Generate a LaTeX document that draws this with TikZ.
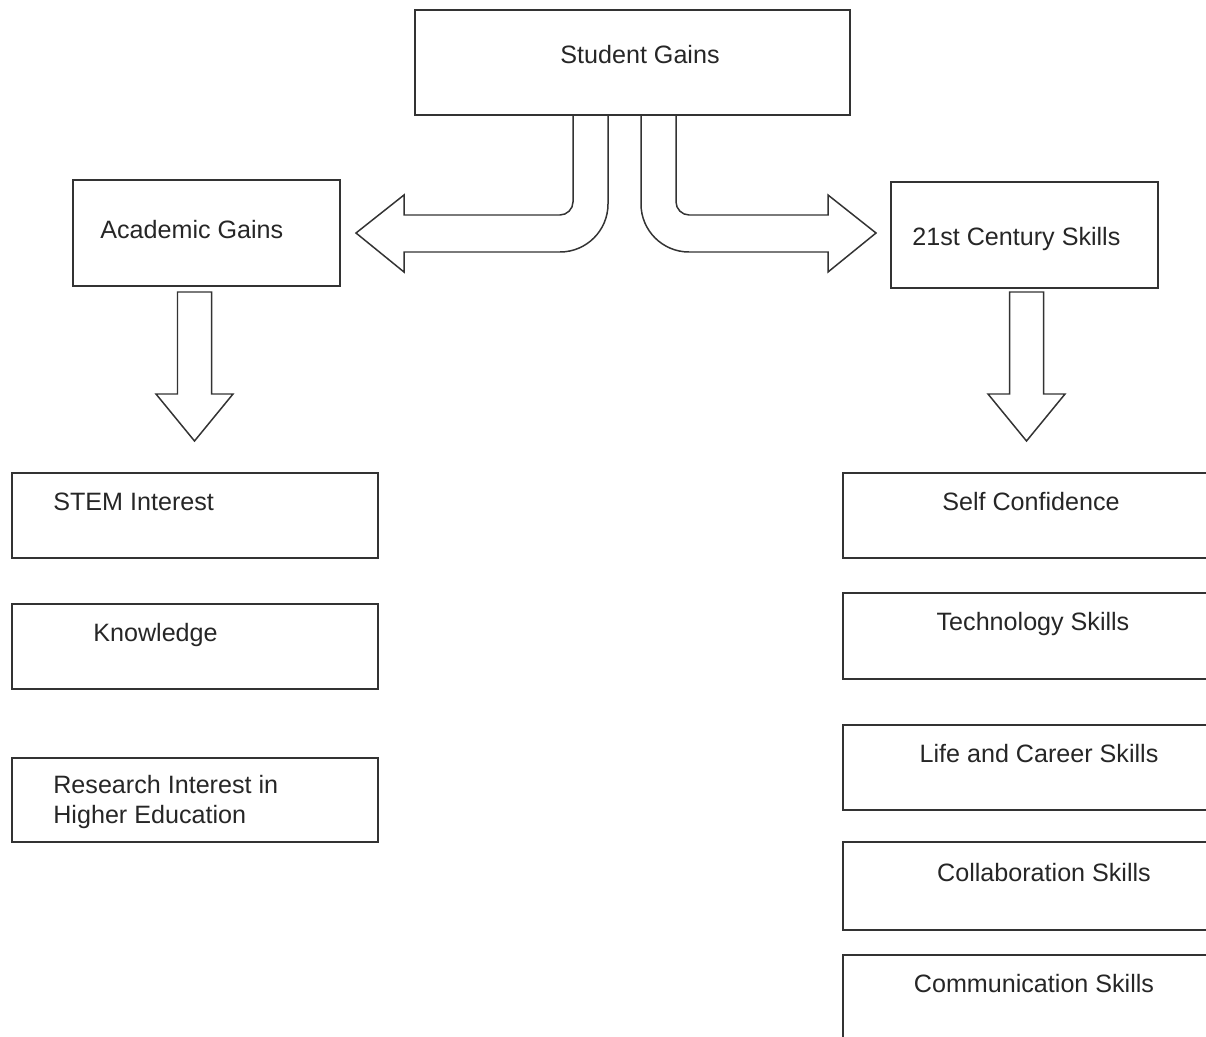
\documentclass[tikz,border=0pt]{standalone}
\usepackage{fontspec}
\setmainfont{Liberation Sans}
\usetikzlibrary{fit}
\begin{document}
\begin{tikzpicture}[x=0.02cm, y=-0.02cm, line join=miter, font=\fontsize{14.3}{17}\selectfont]
	\tikzset{box/.style={draw=black!80, line width=0.85pt, inner sep=0pt},
		txt/.style={inner sep=0pt, text=black!85, anchor=base west},
		fat/.style={draw=black!80, line width=0.85pt}}
	\useasboundingbox (0,0) rectangle (1206,1037);
	% boxes
	\node[box, fit={(415,10) (850,115)}] (gains) {};
	\node[box, fit={(73,180) (340,286)}] (acad) {};
	\node[box, fit={(891,182) (1158,288)}] (skills) {};
	\foreach \n/\t/\b in {stem/473/558, know/604/689, research/758/842}
		\node[box, fit={(12,\t) (378,\b)}] (\n) {};
	\foreach \n/\t/\b in {conf/473/558, tech/593/679, life/725/810, collab/842/930, comm/955/1080}
		\node[box, fit={(843,\t) (1230,\b)}] (\n) {};
	% texts
	\node[txt, anchor=base] (gainstxt) at (640,64) {Student Gains};
	\node[txt] (acadtxt) at (100,238) {Academic Gains};
	\node[txt] (skillstxt) at (912,245) {21st Century Skills};
	\node[txt] (stemtxt) at (53,510) {STEM Interest};
	\node[txt] (knowtxt) at (93,641) {Knowledge};
	\node[txt, anchor=north west, align=left] (researchtxt) at (53,775) {Research Interest in\\Higher Education};
	\foreach \n/\x/\y/\t in {conf/1031/510/Self Confidence, tech/1033/630/Technology Skills,
		life/1039/762/Life and Career Skills, collab/1044/881/Collaboration Skills,
		comm/1034/992/Communication Skills}
		\node[txt, anchor=base] (\n txt) at (\x,\y) {\t};
	% fat arrows
	\draw[fat] (573,115) -- (573,202) .. controls (573,209) and (567,215) .. (560,215) -- (404,215)
		-- (404,195) -- (356,233) -- (404,272) -- (404,252) -- (560,252)
		.. controls (586.5,252) and (608,230.5) .. (608,204) -- (608,115);
	\draw[fat] (641,115) -- (641,204) .. controls (641,230.5) and (662.5,252) .. (689,252) -- (828,252)
		-- (828,272) -- (876,233) -- (828,195) -- (828,215) -- (689,215)
		.. controls (682,215) and (676,209) .. (676,202) -- (676,115);
	\foreach \x in {194.5,1026.5}
		\draw[fat] (\x-17,292) -- (\x-17,394) -- (\x-38.5,394) -- (\x,441) -- (\x+38.5,394)
			-- (\x+17,394) -- (\x+17,292) -- cycle;
\end{tikzpicture}
\end{document}
